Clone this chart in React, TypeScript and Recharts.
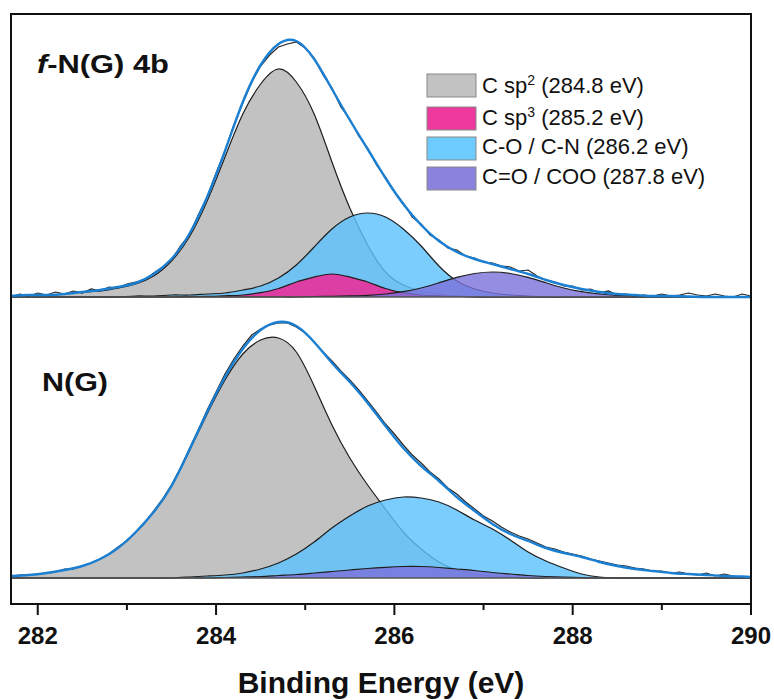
import { ComposedChart, Area, Line, XAxis, YAxis, ReferenceLine } from "recharts";

const FONT = '"Liberation Sans", Arial, Helvetica, sans-serif';

// energy grid of the fitted components (eV)
const FIT_E = [
  281.7, 281.9, 282.1, 282.3, 282.5, 282.7, 282.9, 283.1, 283.3, 283.5,
  283.7, 283.9, 284.1, 284.3, 284.5, 284.7, 284.9, 285.1, 285.3, 285.5,
  285.7, 285.9, 286.1, 286.3, 286.5, 286.7, 286.9, 287.1, 287.3, 287.5,
  287.7, 287.9, 288.1, 288.3, 288.5, 288.7, 288.9, 289.1, 289.3, 289.5,
  289.7, 289.9, 290.0,
];

// energy grid of the measured spectra (eV)
const RAW_E = [
  281.7, 281.8, 281.9, 282.0, 282.1, 282.2, 282.3, 282.4, 282.5, 282.6,
  282.7, 282.8, 282.9, 283.0, 283.1, 283.2, 283.3, 283.4, 283.5, 283.6,
  283.7, 283.8, 283.9, 284.0, 284.1, 284.2, 284.3, 284.4, 284.5, 284.6,
  284.7, 284.8, 284.9, 285.0, 285.1, 285.2, 285.3, 285.4, 285.5, 285.6,
  285.7, 285.8, 285.9, 286.0, 286.1, 286.2, 286.3, 286.4, 286.5, 286.6,
  286.7, 286.8, 286.9, 287.0, 287.1, 287.2, 287.3, 287.4, 287.5, 287.6,
  287.7, 287.8, 287.9, 288.0, 288.1, 288.2, 288.3, 288.4, 288.5, 288.6,
  288.7, 288.8, 288.9, 289.0, 289.1, 289.2, 289.3, 289.4, 289.5, 289.6,
  289.7, 289.8, 289.9, 290.0,
];

// f-N(G) 4b (intensity, a.u.)
const TOP_SP2 = [1, 2, 2, 3, 5, 6, 9, 13, 21, 36, 60, 96, 140, 183, 213, 228, 215, 183, 135, 89, 52, 25, 12, 6, 3, 1, 0, 0, 0, 0, 0, 0, 0, 0, 0, 0, 0, 0, 0, 0, 0, 0, 0];
const TOP_SP3 = [0, 0, 0, 0, 0, 0, 0, 0, 0, 0, 0.4, 0.6, 1.2, 2, 4.4, 8.5, 15, 20, 23, 20, 15, 8.5, 4.4, 2, 1.2, 0.6, 0.4, 0, 0, 0, 0, 0, 0, 0, 0, 0, 0, 0, 0, 0, 0, 0, 0];
const TOP_CO = [0, 0, 0, 0, 0, 0, 0, 1, 1, 2, 2, 3, 4, 7, 11, 19, 32, 50, 68, 80, 84, 80, 68, 51, 31, 16, 8, 4, 2, 1, 0, 0, 0, 0, 0, 0, 0, 0, 0, 0, 0, 0, 0];
const TOP_COO = [0, 0, 0, 0, 0, 0, 0, 0, 0, 0, 0, 0, 0, 0, 0, 0, 0, 0.5, 0.7, 1.1, 1.7, 3, 5.3, 9, 14.3, 19.7, 23.5, 25, 23.5, 19.7, 14.3, 9, 5.3, 3, 1.7, 1.1, 0.7, 0.5, 0.3, 0.2, 0, 0, 0];
const TOP_FIT = [1, 2, 2, 3, 5, 7, 10, 14, 23, 38, 63, 100, 146, 195, 232, 253, 256, 238, 208, 177, 148, 119, 93, 72, 56, 45, 38, 33, 28, 23, 17, 12, 8, 5, 3, 2, 1, 1, 0.5, 0, 0, 0, 0];
const TOP_RAW = [
  0, 3, 1, 4, 2, 5, 3, 6, 4, 8,
  6, 10, 9, 13, 15, 17, 24, 30, 37, 51,
  62, 82, 100, 124, 146, 172, 194, 215, 231, 242,
  250, 253, 255, 249, 239, 222, 209, 190, 178, 161,
  149, 132, 120, 105, 94, 80, 73, 62, 57, 49,
  47, 41, 39, 35, 34, 31, 30, 26, 27, 21,
  17, 15, 11, 11, 7, 8, 4, 6, 2, 3,
  1, 2, 1, 3, 1, 2, 4, 2, 1, 3,
  1, 0, 3, 1,
];

// N(G)
const BOT_SP2 = [2, 3, 5, 8, 12, 19, 30, 46, 66, 92, 127, 164, 198, 224, 238, 240, 226, 192, 153, 120, 93, 69, 46, 29, 16, 8, 4, 2, 1, 0, 0, 0, 0, 0, 0, 0, 0, 0, 0, 0, 0, 0, 0];
const BOT_CO = [0, 0, 0, 0, 0, 0, 0, 0, 0, 0, 1, 2, 3, 5, 9, 15, 24, 36, 50, 62, 72, 78, 81, 80, 76, 68, 58, 49, 38, 26, 17, 10, 4, 1, 0, 0, 0, 0, 0, 0, 0, 0, 0];
const BOT_COO = [0, 0, 0, 0, 0, 0, 0, 0, 0, 0, 0, 0, 0.5, 1, 1.5, 2.5, 3.5, 5, 6.5, 8, 9.5, 10.7, 11.5, 11.5, 10.5, 9, 7.5, 5.5, 4, 2.5, 1.5, 0.8, 0.3, 0, 0, 0, 0, 0, 0, 0, 0, 0, 0];
const BOT_FIT = [2, 3, 5, 8, 12, 19, 30, 46, 66, 92, 128, 166, 201, 229, 248, 256, 252, 236, 215, 196, 175, 152, 130, 112, 97, 81, 67, 54, 44, 37, 30, 25, 21, 16, 12, 9, 7, 5, 4, 3, 2, 1.5, 1];
const BOT_RAW = [
  2, 3, 3, 4, 5, 6, 9, 9, 12, 15,
  19, 24, 31, 37, 46, 55, 67, 79, 93, 110,
  129, 148, 168, 186, 204, 219, 232, 243, 249, 253,
  255, 255, 251, 245, 236, 226, 217, 207, 198, 188,
  177, 166, 154, 144, 133, 123, 115, 106, 99, 90,
  84, 76, 69, 62, 57, 51, 46, 42, 39, 35,
  31, 29, 26, 24, 22, 19, 17, 15, 13, 12,
  10, 9, 7, 7, 5, 6, 4, 3, 5, 2,
  4, 2, 1, 1,
];

const X_TICKS = [282, 283, 284, 285, 286, 287, 288, 289, 290];

const LEGEND = [
  { label: "C sp", sup: "2", rest: " (284.8 eV)", color: "#c2c2c2" },
  { label: "C sp", sup: "3", rest: " (285.2 eV)", color: "#ee3a9c" },
  { label: "C-O / C-N (286.2 eV)", sup: "", rest: "", color: "#6ecbfd" },
  { label: "C=O / COO (287.8 eV)", sup: "", rest: "", color: "#8b82de" },
];

const C_SP2 = "#c2c2c2";
const C_SP3 = "#e8309a";
const C_CO = "#5ec2fc";
const C_COO = "#7a70da";
const C_FIT = "#1b7fd2";
const EDGE = "#1e1e1e";

const fitTable = (sp2: number[], sp3: number[] | null, co: number[], coo: number[], fit: number[]) =>
  FIT_E.map((e, i) => ({ e, sp2: sp2[i], sp3: sp3 ? sp3[i] : 0, co: co[i], coo: coo[i], fit: fit[i] }));
const rawTable = (raw: number[]) => RAW_E.map((e, i) => ({ e, raw: raw[i] }));

const EnergyTick = ({ x, y, payload }: any) => {
  const major = payload.value % 2 === 0;
  return (
    <g>
      <line x1={x} x2={x} y1={y} y2={y + (major ? 11 : 6)} stroke="#111" strokeWidth={2} />
      {major && (
        <text x={x} y={y + 40} textAnchor="middle" fontFamily={FONT} fontWeight="bold" fontSize={24} fill="#111">
          {payload.value}
        </text>
      )}
    </g>
  );
};

function Spectrum({ top, plotH, domain, fit, raw, withSp3, axis }: any) {
  const axisH = axis ? 90 : 0;
  return (
    <div style={{ position: "absolute", left: 11, top }}>
      <ComposedChart width={762} height={plotH + axisH} data={fit} margin={{ top: 0, right: 22, bottom: 0, left: 0 }}>
        <XAxis
          dataKey="e"
          type="number"
          domain={[281.7, 290]}
          allowDataOverflow
          ticks={X_TICKS}
          hide={!axis}
          height={axisH}
          axisLine={false}
          tickLine={false}
          tickSize={0}
          tickMargin={0}
          tick={<EnergyTick />}
          interval={0}
        />
        <YAxis hide type="number" domain={domain} allowDataOverflow />
        <ReferenceLine y={0} stroke="#555" strokeWidth={1.5} />
        <Area dataKey="sp2" type="natural" baseValue={0} fill={C_SP2} fillOpacity={1} stroke={EDGE} strokeWidth={1.2} isAnimationActive={false} />
        <Area dataKey="co" type="natural" baseValue={0} fill={C_CO} fillOpacity={0.82} stroke={EDGE} strokeWidth={1.2} isAnimationActive={false} />
        {withSp3 && (
          <Area dataKey="sp3" type="natural" baseValue={0} fill={C_SP3} fillOpacity={0.9} stroke={EDGE} strokeWidth={1.2} isAnimationActive={false} />
        )}
        <Area dataKey="coo" type="natural" baseValue={0} fill={C_COO} fillOpacity={0.8} stroke={EDGE} strokeWidth={1.2} isAnimationActive={false} />
        <Line data={raw} dataKey="raw" type="linear" stroke="#222" strokeWidth={1.2} dot={false} isAnimationActive={false} />
        <Line dataKey="fit" type="natural" stroke={C_FIT} strokeWidth={2.4} dot={false} isAnimationActive={false} />
      </ComposedChart>
    </div>
  );
}

export default function App() {
  const topFit = fitTable(TOP_SP2, TOP_SP3, TOP_CO, TOP_COO, TOP_FIT);
  const botFit = fitTable(BOT_SP2, null, BOT_CO, BOT_COO, BOT_FIT);

  return (
    <div style={{ position: "absolute", left: 0, top: 0, width: 774, height: 700, background: "#fff" }}>
      {/* f-N(G) 4b */}
      <Spectrum top={14} plotH={296} domain={[-13, 283]} fit={topFit} raw={rawTable(TOP_RAW)} withSp3 axis={false} />
      {/* N(G) */}
      <Spectrum top={310} plotH={294} domain={[-26, 268]} fit={botFit} raw={rawTable(BOT_RAW)} withSp3={false} axis />

      <svg width={774} height={700} style={{ position: "absolute", left: 0, top: 0, pointerEvents: "none" }}>
        <rect x={11} y={14} width={740} height={590} fill="none" stroke="#111" strokeWidth={2} />

        <text x={37} y={73} fontFamily={FONT} fontWeight="bold" fontSize={25} fill="#111" textLength={132} lengthAdjust="spacingAndGlyphs">
          <tspan fontStyle="italic">f</tspan>-N(G) 4b
        </text>
        <text x={42} y={391} fontFamily={FONT} fontWeight="bold" fontSize={25} fill="#111" textLength={66} lengthAdjust="spacingAndGlyphs">
          N(G)
        </text>

        {LEGEND.map((d, i) => {
          const boxY = [74, 107, 137, 167][i];
          const base = [93, 125, 154, 184][i];
          return (
            <g key={i}>
              <rect x={427} y={boxY} width={49} height={23} fill={d.color} stroke="#888" strokeWidth={1} />
              <text x={482} y={base} fontFamily={FONT} fontSize={22} fill="#111">
                {d.label}
                {d.sup && (
                  <tspan fontSize={14} dy={-8}>
                    {d.sup}
                  </tspan>
                )}
                {d.rest && <tspan dy={d.sup ? 8 : 0}>{d.rest}</tspan>}
              </text>
            </g>
          );
        })}

        <text x={381} y={693} textAnchor="middle" fontFamily={FONT} fontWeight="bold" fontSize={30} fill="#111">
          Binding Energy (eV)
        </text>
      </svg>
    </div>
  );
}
